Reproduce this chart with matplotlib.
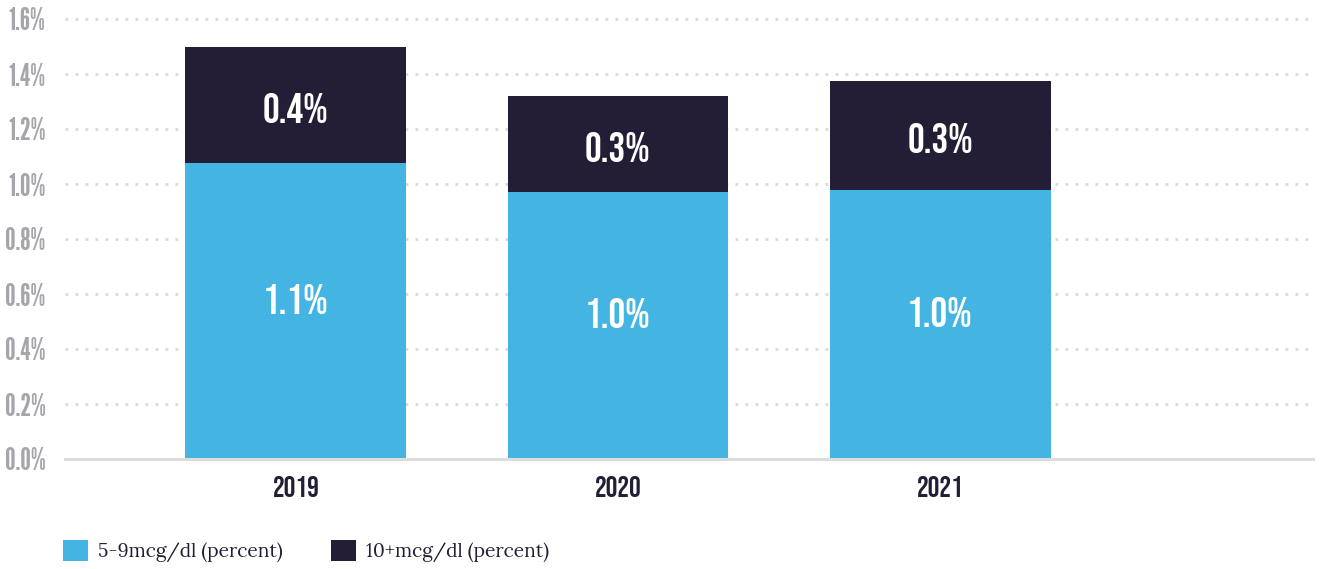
import matplotlib
matplotlib.use("Agg")
import matplotlib.pyplot as plt
from matplotlib.patches import Patch

# blood lead share by year, stacked: 5-9 mcg/dl below, 10+ mcg/dl on top
years = ["2019", "2020", "2021"]
low_pct = [1.077, 0.971, 0.978]
high_pct = [0.422, 0.349, 0.396]
low_labels = ["1.1%", "1.0%", "1.0%"]
high_labels = ["0.4%", "0.3%", "0.3%"]
series_names = ["5-9mcg/dl (percent)", "10+mcg/dl (percent)"]
y_ticks = [0.0, 0.2, 0.4, 0.6, 0.8, 1.0, 1.2, 1.4, 1.6]

BLUE = "#44b5e3"
NAVY = "#231e35"
GREY_TXT = "#a4a6ab"
GRID = "#d9d9d9"
NARROW = ["Bebas Neue", "Oswald", "Antonio", "Barlow Condensed", "DejaVu Sans"]
THIN = ["League Gothic", "Bebas Neue", "Oswald", "DejaVu Sans"]
SERIF = ["Lora", "DejaVu Serif"]

fig = plt.figure(figsize=(13.2, 5.69), dpi=100)
ax = fig.add_axes([65 / 1320, 1 - 459 / 569, (1313 - 65) / 1320, (459 - 19) / 569])

x = list(range(len(years)))
width = 0.686
ax.bar(x, low_pct, width=width, color=BLUE, zorder=3)
ax.bar(x, high_pct, width=width, bottom=low_pct, color=NAVY, zorder=3)

for xi, lo, hi, lo_txt, hi_txt in zip(x, low_pct, high_pct, low_labels, high_labels):
    ax.text(xi, lo / 2 + 0.045, lo_txt, ha="center", va="center", color="white",
            fontsize=30, family=NARROW, zorder=4)
    ax.text(xi, lo + hi / 2 - 0.01, hi_txt, ha="center", va="center", color="white",
            fontsize=30, family=NARROW, zorder=4)

ax.set_xlim(-0.717, 3.158)
ax.set_ylim(0, 1.6)
ax.set_yticks(y_ticks)
ax.set_yticklabels([f"{v:.1f}%" for v in y_ticks], family=THIN,
                   fontsize=21.5, color=GREY_TXT)
ax.set_xticks(x)
ax.set_xticklabels(years, family=NARROW, fontsize=21, color=NAVY)
ax.tick_params(axis="y", length=0, pad=14)
ax.tick_params(axis="x", length=0, pad=12)

# dotted horizontal grid, square dots
for v in y_ticks[1:]:
    ax.axhline(v, color=GRID, lw=2.0, linestyle=(0, (1, 2.6)),
               dash_capstyle="butt", zorder=1, clip_on=False)

for side in ("top", "right", "left"):
    ax.spines[side].set_visible(False)
ax.spines["bottom"].set_color("#dcdcdc")
ax.spines["bottom"].set_linewidth(2.2)
ax.spines["bottom"].set_zorder(5)

handles = [Patch(facecolor=BLUE, edgecolor="none"),
           Patch(facecolor=NAVY, edgecolor="none")]
fig.legend(handles, series_names, loc="center left",
           bbox_to_anchor=(46 / 1320, 1 - 551 / 569), ncol=2, frameon=False,
           prop={"family": SERIF, "size": 13.8}, handlelength=1.3,
           handleheight=1.3, handletextpad=0.52, columnspacing=2.5,
           labelcolor=NAVY)

fig.savefig("out.png", dpi=100)
